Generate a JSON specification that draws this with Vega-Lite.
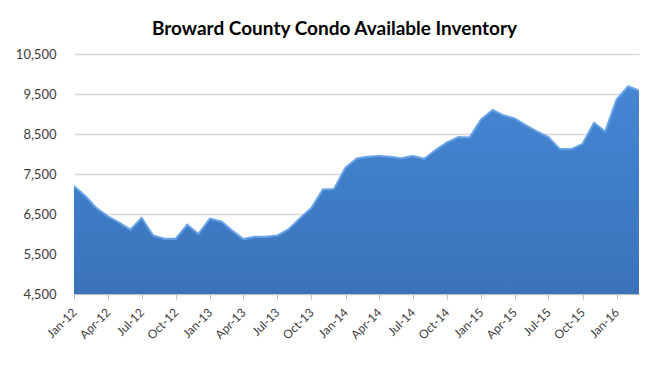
{
  "$schema": "https://vega.github.io/schema/vega-lite/v6.json",
  "width": 565,
  "height": 240,
  "autosize": {"type": "none"},
  "padding": {"left": 74, "top": 54, "right": 31, "bottom": 77},
  "background": "white",
  "title": {
    "text": "Broward County Condo Available Inventory",
    "font": "Lato",
    "fontSize": 19,
    "fontWeight": "bold",
    "color": "#000000",
    "anchor": "middle",
    "dx": -22,
    "offset": 9
  },
  "config": {
    "view": {"stroke": null},
    "axis": {"labelFont": "Lato", "labelColor": "#404040", "labelFontSize": 13}
  },
  "data": {
    "values": [
      {"date": "2012-01-01", "inventory": 7195},
      {"date": "2012-02-01", "inventory": 6945},
      {"date": "2012-03-01", "inventory": 6650},
      {"date": "2012-04-01", "inventory": 6440},
      {"date": "2012-05-01", "inventory": 6290},
      {"date": "2012-06-01", "inventory": 6105},
      {"date": "2012-07-01", "inventory": 6400},
      {"date": "2012-08-01", "inventory": 5960},
      {"date": "2012-09-01", "inventory": 5880},
      {"date": "2012-10-01", "inventory": 5880},
      {"date": "2012-11-01", "inventory": 6230},
      {"date": "2012-12-01", "inventory": 6000},
      {"date": "2013-01-01", "inventory": 6380},
      {"date": "2013-02-01", "inventory": 6310},
      {"date": "2013-03-01", "inventory": 6090},
      {"date": "2013-04-01", "inventory": 5870},
      {"date": "2013-05-01", "inventory": 5930},
      {"date": "2013-06-01", "inventory": 5930},
      {"date": "2013-07-01", "inventory": 5960},
      {"date": "2013-08-01", "inventory": 6120},
      {"date": "2013-09-01", "inventory": 6400},
      {"date": "2013-10-01", "inventory": 6650},
      {"date": "2013-11-01", "inventory": 7110},
      {"date": "2013-12-01", "inventory": 7125},
      {"date": "2014-01-01", "inventory": 7660},
      {"date": "2014-02-01", "inventory": 7890},
      {"date": "2014-03-01", "inventory": 7930},
      {"date": "2014-04-01", "inventory": 7950},
      {"date": "2014-05-01", "inventory": 7930},
      {"date": "2014-06-01", "inventory": 7890},
      {"date": "2014-07-01", "inventory": 7950},
      {"date": "2014-08-01", "inventory": 7880},
      {"date": "2014-09-01", "inventory": 8100},
      {"date": "2014-10-01", "inventory": 8290},
      {"date": "2014-11-01", "inventory": 8420},
      {"date": "2014-12-01", "inventory": 8410},
      {"date": "2015-01-01", "inventory": 8860},
      {"date": "2015-02-01", "inventory": 9100},
      {"date": "2015-03-01", "inventory": 8970},
      {"date": "2015-04-01", "inventory": 8890},
      {"date": "2015-05-01", "inventory": 8720},
      {"date": "2015-06-01", "inventory": 8560},
      {"date": "2015-07-01", "inventory": 8420},
      {"date": "2015-08-01", "inventory": 8120},
      {"date": "2015-09-01", "inventory": 8120},
      {"date": "2015-10-01", "inventory": 8250},
      {"date": "2015-11-01", "inventory": 8780},
      {"date": "2015-12-01", "inventory": 8560},
      {"date": "2016-01-01", "inventory": 9370},
      {"date": "2016-02-01", "inventory": 9690},
      {"date": "2016-03-01", "inventory": 9580}
    ]
  },
  "encoding": {
    "x": {
      "field": "date",
      "type": "temporal",
      "scale": {
        "type": "utc",
        "domain": [
          {"year": 2012, "month": 1, "date": 1, "utc": true},
          {"year": 2016, "month": 3, "date": 1, "utc": true}
        ],
        "nice": false
      },
      "axis": {
        "title": null,
        "labelExpr": "['Jan','Feb','Mar','Apr','May','Jun','Jul','Aug','Sep','Oct','Nov','Dec'][utcmonth(datum.value)] + '-' + (utcyear(datum.value) % 100)",
        "values": [
          {"year": 2012, "month": 1, "date": 1, "utc": true},
          {"year": 2012, "month": 4, "date": 1, "utc": true},
          {"year": 2012, "month": 7, "date": 1, "utc": true},
          {"year": 2012, "month": 10, "date": 1, "utc": true},
          {"year": 2013, "month": 1, "date": 1, "utc": true},
          {"year": 2013, "month": 4, "date": 1, "utc": true},
          {"year": 2013, "month": 7, "date": 1, "utc": true},
          {"year": 2013, "month": 10, "date": 1, "utc": true},
          {"year": 2014, "month": 1, "date": 1, "utc": true},
          {"year": 2014, "month": 4, "date": 1, "utc": true},
          {"year": 2014, "month": 7, "date": 1, "utc": true},
          {"year": 2014, "month": 10, "date": 1, "utc": true},
          {"year": 2015, "month": 1, "date": 1, "utc": true},
          {"year": 2015, "month": 4, "date": 1, "utc": true},
          {"year": 2015, "month": 7, "date": 1, "utc": true},
          {"year": 2015, "month": 10, "date": 1, "utc": true},
          {"year": 2016, "month": 1, "date": 1, "utc": true}
        ],
        "labelAngle": -45,
        "labelAlign": "right",
        "labelBaseline": "middle",
        "labelPadding": 11,
        "labelFontSize": 12,
        "grid": false,
        "domainColor": "#bfbfbf",
        "tickColor": "#bfbfbf",
        "tickSize": 5,
        "labelOverlap": false
      }
    },
    "y": {
      "field": "inventory",
      "type": "quantitative",
      "scale": {"domain": [4500, 10500], "nice": false, "zero": false},
      "axis": {
        "title": null,
        "values": [4500, 5500, 6500, 7500, 8500, 9500, 10500],
        "labelExpr": "floor(datum.value / 1000) + ',500'",
        "domain": false,
        "ticks": false,
        "labelPadding": 18,
        "gridColor": "#d9d9d9",
        "gridWidth": 1.3
      }
    }
  },
  "layer": [
    {
      "mark": {
        "type": "area",
        "clip": true,
        "color": {
          "gradient": "linear",
          "x1": 0, "y1": 1, "x2": 0, "y2": 0,
          "stops": [
            {"offset": 0, "color": "#3262a3"},
            {"offset": 1, "color": "#4486d4"}
          ]
        }
      }
    },
    {
      "mark": {"type": "line", "clip": true, "color": "#62a0e6", "strokeWidth": 2.2, "opacity": 0.9}
    }
  ]
}
